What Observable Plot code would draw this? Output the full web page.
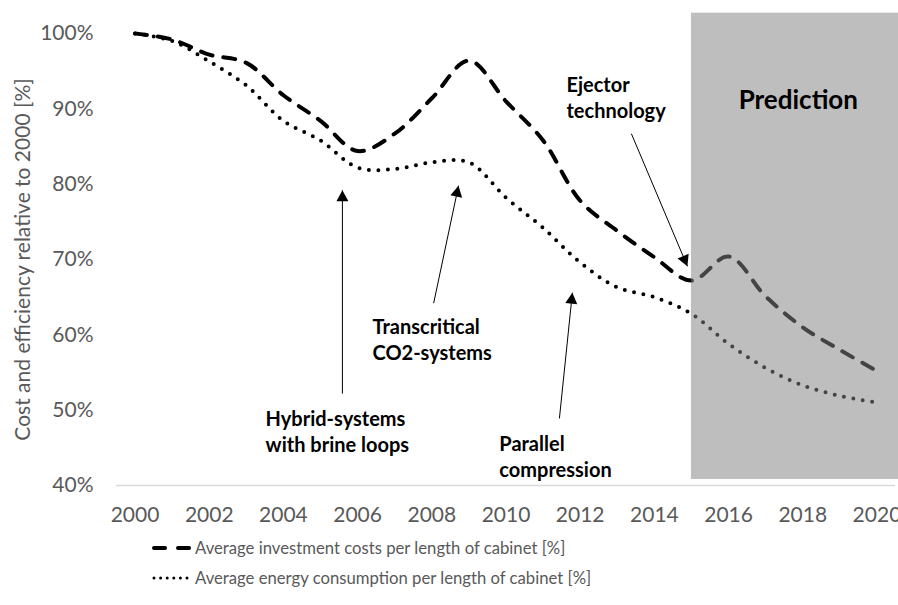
<!DOCTYPE html>
<html>
<head>
<meta charset="utf-8">
<script src="https://cdn.jsdelivr.net/npm/d3@7"></script>
<script src="https://cdn.jsdelivr.net/npm/@observablehq/plot@0.6"></script>
<style>
  body { margin: 0; background: #fff; font-family: Lato, "Open Sans", sans-serif; }
  #legend { padding-left: 150px; padding-top: 3px; color: #595959; font-size: 16.7px; }
  .row { height: 30px; display: flex; align-items: center; }
  .row svg { margin-right: 4px; }
</style>
</head>
<body>
<div id="chart"></div>
<div id="legend"></div>
<script>
const years = d3.range(2000, 2021);
const investment = [100, 99.2, 97.2, 96.1, 91.8, 88.4, 84.4, 86.7, 91.4, 96.4, 91.0, 85.8, 77.8, 73.8, 70.3, 67.2, 70.4, 65.1, 61.0, 58.0, 55.2];
const energy = [100, 99.0, 96.3, 93.1, 88.4, 85.8, 82.2, 82.0, 82.9, 82.9, 78.2, 74.2, 69.6, 66.3, 65.0, 62.8, 58.8, 55.6, 53.3, 51.9, 51.0];
const yTicks = [40, 50, 60, 70, 80, 90, 100];
const xTicks = [2000, 2002, 2004, 2006, 2008, 2010, 2012, 2014, 2016, 2018, 2020];
const seriesNames = ["Average investment costs per length of cabinet [%]", "Average energy consumption per length of cabinet [%]"];
const yTitle = "Cost and efficiency relative to 2000 [%]";
const prediction = [{x1: 2015, x2: 2020.6, y1: 40.8, y2: 102.7, label: "Prediction", lx: 2017.88, ly: 91.1}];
const noteLabels = ["Hybrid-systems\nwith brine loops", "Transcritical\nCO2-systems", "Parallel\ncompression", "Ejector\ntechnology"];
const noteTextX = [2003.52, 2006.4, 2009.82, 2011.63];
const noteTextY = [47.3, 59.45, 44.0, 91.6];
const arrowX1 = [2005.59, 2008.05, 2011.44, 2013.38];
const arrowY1 = [52.2, 64.2, 48.9, 86.7];
const arrowX2 = [2005.59, 2008.72, 2011.79, 2014.89];
const arrowY2 = [79.2, 79.8, 65.6, 69.1];

const invData = years.map((y, i) => ({year: y, v: investment[i]}));
const enData = years.map((y, i) => ({year: y, v: energy[i]}));
const notes = noteLabels.map((t, i) => ({t, x: noteTextX[i], y: noteTextY[i], x1: arrowX1[i], y1: arrowY1[i], x2: arrowX2[i], y2: arrowY2[i]}));

const triangle = (color, context) => {
  const ns = "http://www.w3.org/2000/svg";
  const m = context.document.createElementNS(ns, "marker");
  m.setAttribute("viewBox", "-7 -7 14 14");
  m.setAttribute("markerWidth", "14");
  m.setAttribute("markerHeight", "14");
  m.setAttribute("markerUnits", "userSpaceOnUse");
  m.setAttribute("orient", "auto");
  m.setAttribute("refX", "5");
  m.setAttribute("refY", "0");
  const p = context.document.createElementNS(ns, "path");
  p.setAttribute("d", "M-6,-6L5,0L-6,6Z");
  p.setAttribute("fill", "#000");
  p.setAttribute("stroke", "none");
  m.appendChild(p);
  return m;
};

const chart = Plot.plot({
  width: 898,
  height: 530,
  marginLeft: 116,
  marginRight: 3,
  marginTop: 33,
  marginBottom: 45,
  style: {fontFamily: "Lato, 'Open Sans', sans-serif", fontSize: "21px", color: "#595959", background: "#fff"},
  x: {domain: [1999.5, 2020.5], ticks: xTicks, tickFormat: d => String(d), tickSize: 0, tickPadding: 22, label: null},
  y: {domain: [40, 100], ticks: yTicks, tickFormat: d => d + "%", tickSize: 0, tickPadding: 23, label: null},
  marks: [
    Plot.ruleY([40], {stroke: "#d9d9d9", strokeWidth: 1.5}),
    Plot.line(invData, {x: "year", y: "v", stroke: "#000", strokeWidth: 4, strokeDasharray: "12 11", strokeLinecap: "round", curve: "catmull-rom"}),
    Plot.line(enData, {x: "year", y: "v", stroke: "#000", strokeWidth: 4, strokeDasharray: "0 9.5", strokeLinecap: "round", curve: "catmull-rom"}),
    Plot.rect(prediction, {x1: "x1", x2: "x2", y1: "y1", y2: "y2", fill: "#838383", fillOpacity: 0.52}),
    Plot.text(prediction, {x: "lx", y: "ly", text: "label", fill: "#000", fontWeight: "bold", fontSize: 26, textAnchor: "middle"}),
    Plot.link(notes, {x1: "x1", y1: "y1", x2: "x2", y2: "y2", stroke: "#000", strokeWidth: 1, markerEnd: triangle}),
    Plot.text(notes, {x: "x", y: "y", text: "t", fill: "#000", fontWeight: "bold", fontSize: 20, textAnchor: "start", lineHeight: 1.3}),
    Plot.text([yTitle], {frameAnchor: "left", textAnchor: "middle", rotate: -90, dx: -93, fill: "#595959", fontSize: 21})
  ]
});
document.getElementById("chart").appendChild(chart);

const legend = d3.select("#legend");
const r1 = legend.append("div").attr("class", "row");
const s1 = r1.append("svg").attr("width", 41).attr("height", 12);
s1.append("line").attr("x1", 4).attr("x2", 40).attr("y1", 6).attr("y2", 6).attr("stroke", "#000").attr("stroke-width", 4).attr("stroke-dasharray", "11 13").attr("stroke-linecap", "round");
r1.append("span").text(seriesNames[0]);
const r2 = legend.append("div").attr("class", "row");
const s2 = r2.append("svg").attr("width", 41).attr("height", 12);
s2.append("line").attr("x1", 4).attr("x2", 40).attr("y1", 6).attr("y2", 6).attr("stroke", "#000").attr("stroke-width", 3).attr("stroke-dasharray", "0 6.6").attr("stroke-linecap", "round");
r2.append("span").text(seriesNames[1]);
</script>
</body>
</html>
